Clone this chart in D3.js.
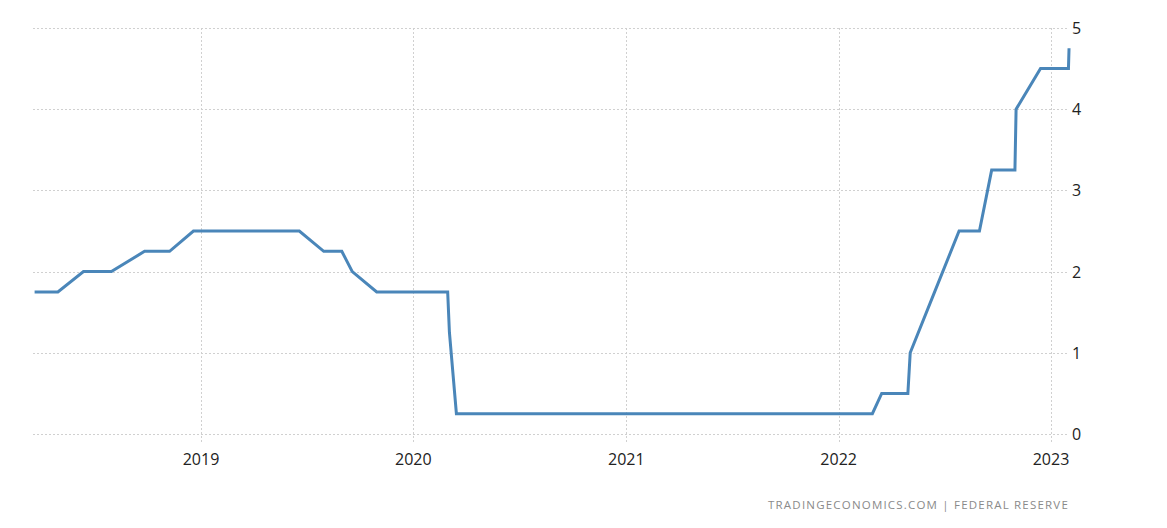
<!DOCTYPE html>
<meta charset="utf-8">
<style>
body { margin: 0; background: #fff; }
.grid line { stroke: #d0d0d0; stroke-dasharray: 2,2; shape-rendering: crispEdges; }
.axis text { font-family: "Open Sans", sans-serif; font-size: 16px; fill: #222; }
.source { font-family: "Open Sans", sans-serif; font-size: 11.5px; fill: #8a8a8a; letter-spacing: 1.2px; }
</style>
<body>
<script src="https://d3js.org/d3.v7.min.js"></script>
<script>
// fed funds target rate (upper bound), points where the series changes
var dates = ["2018-03-21", "2018-04-30", "2018-06-13", "2018-07-31", "2018-09-26", "2018-11-08",
             "2018-12-19", "2019-06-19", "2019-07-31", "2019-08-31", "2019-09-18", "2019-10-30",
             "2020-02-29", "2020-03-03", "2020-03-15", "2022-02-28", "2022-03-16", "2022-04-30",
             "2022-05-04", "2022-06-15", "2022-07-27", "2022-08-31", "2022-09-21", "2022-10-31",
             "2022-11-02", "2022-12-14", "2023-01-31", "2023-02-01"];
var rates = [1.75, 1.75, 2.00, 2.00, 2.25, 2.25,
             2.50, 2.50, 2.25, 2.25, 2.00, 1.75,
             1.75, 1.25, 0.25, 0.25, 0.50, 0.50,
             1.00, 1.75, 2.50, 2.50, 3.25, 3.25,
             4.00, 4.50, 4.50, 4.75];
var yTicks = [0, 1, 2, 3, 4, 5];
var xTicks = ["2019-01-01", "2020-01-01", "2021-01-01", "2022-01-01", "2023-01-01"];

var parse = d3.timeParse("%Y-%m-%d");
var data = dates.map(function(d, i) { return {date: parse(d), value: rates[i]}; });

var svg = d3.select("body").append("svg")
    .attr("width", 1167)
    .attr("height", 528);

var x = d3.scaleTime()
    .domain([parse("2019-01-01"), parse("2023-01-01")])
    .range([201, 1051]);
var y = d3.scaleLinear()
    .domain([0, 5])
    .range([434, 28]);

var left = 33, right = 1067;

// horizontal grid
svg.append("g").attr("class", "grid")
    .selectAll("line")
    .data(yTicks)
    .enter().append("line")
    .attr("x1", left)
    .attr("x2", right)
    .attr("y1", function(d) { return Math.round(y(d)) + 0.5; })
    .attr("y2", function(d) { return Math.round(y(d)) + 0.5; });

// vertical grid
svg.append("g").attr("class", "grid")
    .selectAll("line")
    .data(xTicks)
    .enter().append("line")
    .attr("x1", function(d) { return Math.round(x(parse(d))) + 0.5; })
    .attr("x2", function(d) { return Math.round(x(parse(d))) + 0.5; })
    .attr("y1", 28)
    .attr("y2", 442);

// x axis labels
svg.append("g").attr("class", "axis")
    .selectAll("text")
    .data(xTicks)
    .enter().append("text")
    .attr("x", function(d) { return x(parse(d)); })
    .attr("y", 465)
    .attr("text-anchor", "middle")
    .text(function(d) { return d.slice(0, 4); });

// y axis labels (right side)
svg.append("g").attr("class", "axis")
    .selectAll("text")
    .data(yTicks)
    .enter().append("text")
    .attr("x", 1072)
    .attr("y", function(d) { return y(d) + 6; })
    .text(function(d) { return d; });

var line = d3.line()
    .x(function(d) { return x(d.date); })
    .y(function(d) { return y(d.value); });

svg.append("path")
    .datum(data)
    .attr("d", line)
    .attr("fill", "none")
    .attr("stroke", "#4a86b9")
    .attr("stroke-width", 3)
    .attr("stroke-linejoin", "miter");

svg.append("text")
    .attr("class", "source")
    .attr("x", 1069)
    .attr("y", 509)
    .attr("text-anchor", "end")
    .text("TRADINGECONOMICS.COM  |  FEDERAL RESERVE");
</script>
</body>
